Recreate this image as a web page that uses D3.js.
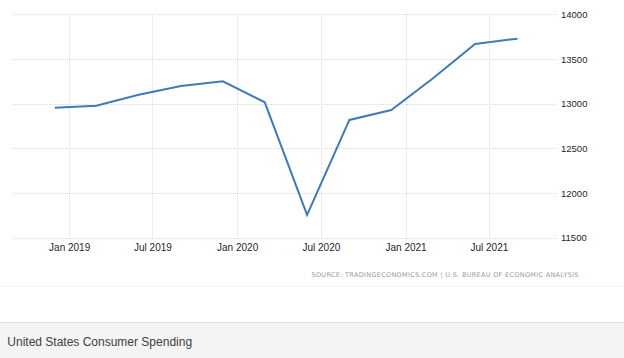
<!DOCTYPE html>
<html><head><meta charset="utf-8">
<script src="https://cdn.jsdelivr.net/npm/d3@7/dist/d3.min.js"></script>
<style>
html,body{margin:0;padding:0;background:#fff;}
svg{display:block;}
</style></head>
<body>
<svg id="c" width="624" height="358"></svg>
<script>
const dates = ["2018-12-01","2019-03-01","2019-06-01","2019-09-01","2019-12-01","2020-03-01","2020-06-01","2020-09-01","2020-12-01","2021-03-01","2021-06-01","2021-09-01"];
const values = [12955,12977,13100,13198,13250,13015,11754,12817,12929,13282,13668,13727];
const yTicks = [11500,12000,12500,13000,13500,14000];
const xTicks = ["2019-01-01","2019-07-01","2020-01-01","2020-07-01","2021-01-01","2021-07-01"];
const xTickLabels = ["Jan 2019","Jul 2019","Jan 2020","Jul 2020","Jan 2021","Jul 2021"];
const sourceText = "SOURCE: TRADINGECONOMICS.COM | U.S. BUREAU OF ECONOMIC ANALYSIS";
const titleText = "United States Consumer Spending";

const parse = d3.timeParse("%Y-%m-%d");
const svg = d3.select("#c");
const plotL = 13, plotR = 557;

const x = d3.scaleTime().domain([parse("2018-09-01"), parse("2021-11-26")]).range([plotL, plotR]);
const y = d3.scaleLinear().domain([11500, 14000]).range([237.6, 14.3]);

// bottom band
svg.append("rect").attr("x",0).attr("y",286).attr("width",624).attr("height",1).attr("fill","#f3f3f3");
svg.append("rect").attr("x",0).attr("y",323).attr("width",624).attr("height",35).attr("fill","#f4f4f4");
svg.append("rect").attr("x",0).attr("y",322).attr("width",624).attr("height",1).attr("fill","#e2e2e2");

// horizontal grid
const gy = svg.append("g");
gy.selectAll("line").data(yTicks).join("line")
  .attr("x1",plotL).attr("x2",plotR)
  .attr("y1",d=>Math.round(y(d))+0.5).attr("y2",d=>Math.round(y(d))+0.5)
  .attr("stroke","#d9d9d9").attr("stroke-dasharray","1,1").attr("stroke-width",1);

// vertical grid
const gx = svg.append("g");
gx.selectAll("line").data(xTicks).join("line")
  .attr("x1",d=>Math.round(x(parse(d)))+0.5).attr("x2",d=>Math.round(x(parse(d)))+0.5)
  .attr("y1",y(14000)).attr("y2",y(11500)+2)
  .attr("stroke","#d9d9d9").attr("stroke-dasharray","1,1").attr("stroke-width",1);

// y axis on right
const yAxis = d3.axisRight(y).tickValues(yTicks).tickSize(0).tickPadding(0).tickFormat(d3.format("d"));
const ya = svg.append("g").attr("transform",`translate(561,0)`).call(yAxis);
ya.select(".domain").remove();
ya.selectAll("text").attr("font-family","Liberation Sans, Arial, sans-serif").attr("font-size","9.5px").attr("fill","#1f2333").attr("dy","0.35em");

// x axis
const xAxis = d3.axisBottom(x).tickValues(xTicks.map(parse)).tickSize(0).tickPadding(0)
  .tickFormat((d,i)=>xTickLabels[i]);
const xa = svg.append("g").attr("transform",`translate(0,244)`).call(xAxis);
xa.select(".domain").remove();
xa.selectAll("text").attr("font-family","Liberation Sans, Arial, sans-serif").attr("font-size","10px").attr("fill","#1f2333").attr("dy","0.71em");

// line
const line = d3.line().x((d,i)=>x(parse(dates[i]))).y(d=>y(d));
svg.append("path").datum(values).attr("d",line)
  .attr("fill","none").attr("stroke","#3e7cb9").attr("stroke-width",2).attr("stroke-linejoin","miter");

// source
svg.append("text").attr("x",311.5).attr("y",276.5).text(sourceText)
  .attr("font-family","DejaVu Sans, sans-serif").attr("font-size","6.5px").attr("fill","#9a9a9a")
  .attr("textLength",267).attr("lengthAdjust","spacing");

// title
svg.append("text").attr("x",7.3).attr("y",346).text(titleText)
  .attr("font-family","Liberation Sans, Arial, sans-serif").attr("font-size","12px").attr("fill","#404040");
</script>
</body></html>
